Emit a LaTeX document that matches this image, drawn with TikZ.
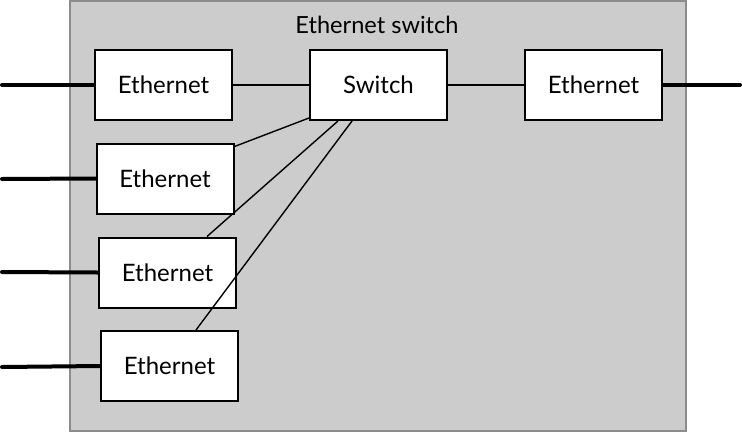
\documentclass[tikz,border=0pt]{standalone}
\usepackage{fontspec}
\setmainfont{Lato}
\begin{document}
\begin{tikzpicture}[x=1pt,y=-1pt,
  box/.style={draw=black,line width=2pt,fill=white,minimum width=137pt,minimum height=70pt,inner sep=0pt,font=\fontsize{24}{28}\selectfont},
  wire/.style={line width=4pt,line cap=round},
  link/.style={line width=1.4pt}]
\useasboundingbox (0,0) rectangle (742,432);
\node[draw=black!45,line width=2pt,fill=black!20,minimum width=616pt,minimum height=430pt,inner sep=0pt] (frame) at (378,216) {};
\node[font=\fontsize{23.6}{28}\selectfont] (title) at (377,25) {Ethernet switch};
\node[box] (e1) at (163.5,85) {Ethernet};
\node[box] (sw) at (378.5,85) {Switch};
\node[box] (er) at (593.5,85) {Ethernet};
\node[box] (e2) at (165,178.5) {Ethernet};
\node[box] (e3) at (167.5,272.5) {Ethernet};
\node[box] (e4) at (169.5,366) {Ethernet};
\coordinate (l1) at (2,85);
\coordinate (l2) at (2,179);
\coordinate (l3) at (2,272);
\coordinate (l4) at (2,367);
\coordinate (r1) at (740,85);
\draw[wire] (l1) -- (e1.west);
\draw[wire] (l2) -- (e2.west);
\draw[wire] (l3) -- (e3.west);
\draw[wire] (l4) -- (e4.west);
\draw[wire] (er.east) -- (r1);
\draw[link] (e1.east) -- (sw.west);
\draw[link] (sw.east) -- (er.west);
\draw[link] ([yshift=-4pt]e2.north east) -- ([yshift=3pt]sw.south west);
\draw[link] ([xshift=39.5pt]e3.north) -- ([xshift=-40.5pt]sw.south);
\draw[link] ([xshift=26.5pt]e4.north) -- ([xshift=-26.5pt]sw.south);
\end{tikzpicture}
\end{document}
